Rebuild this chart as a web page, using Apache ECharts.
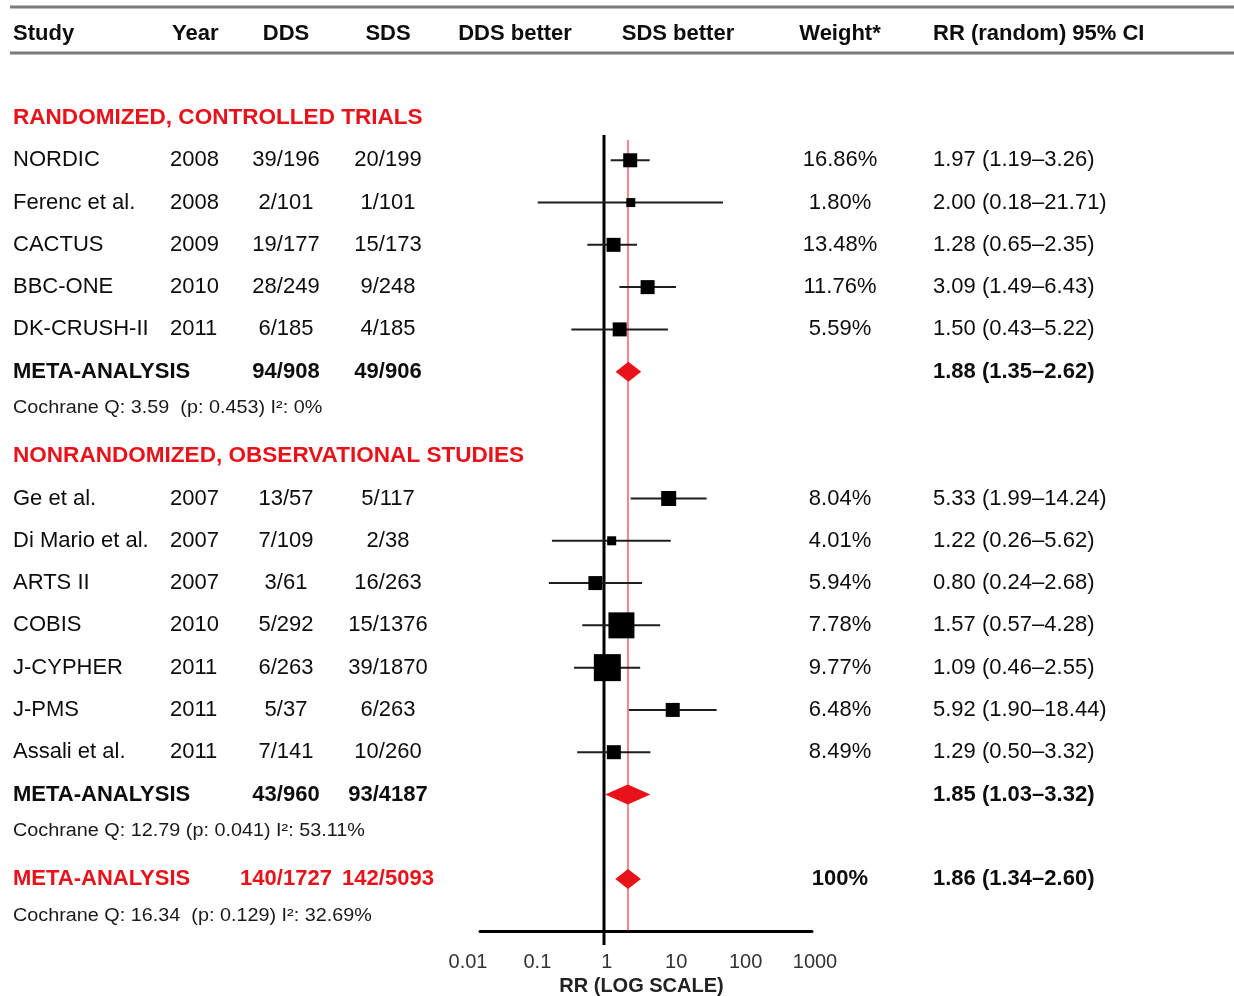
<!DOCTYPE html>
<html><head><meta charset="utf-8">
<script src="https://cdn.jsdelivr.net/npm/echarts@6/dist/echarts.min.js"></script>
<style>html,body{margin:0;padding:0;background:#fff}#chart{width:1234px;height:996px}</style>
</head><body><div id="chart"></div>
<script>
// ---------------- DATA ----------------
const columnHeaders = ['Study', 'Year', 'DDS', 'SDS', 'DDS better', 'SDS better', 'Weight*', 'RR (random) 95% CI'];
const sectionTitles = ['RANDOMIZED, CONTROLLED TRIALS', 'NONRANDOMIZED, OBSERVATIONAL STUDIES'];

const rctStudies   = ['NORDIC', 'Ferenc et al.', 'CACTUS', 'BBC-ONE', 'DK-CRUSH-II'];
const rctYears     = [2008, 2008, 2009, 2010, 2011];
const rctDdsEvents = [39, 2, 19, 28, 6];
const rctDdsTotals = [196, 101, 177, 249, 185];
const rctSdsEvents = [20, 1, 15, 9, 4];
const rctSdsTotals = [199, 101, 173, 248, 185];
const rctWeights   = [16.86, 1.80, 13.48, 11.76, 5.59];
const rctRR        = [1.97, 2.00, 1.28, 3.09, 1.50];
const rctLow       = [1.19, 0.18, 0.65, 1.49, 0.43];
const rctHigh      = [3.26, 21.71, 2.35, 6.43, 5.22];

const obsStudies   = ['Ge et al.', 'Di Mario et al.', 'ARTS II', 'COBIS', 'J-CYPHER', 'J-PMS', 'Assali et al.'];
const obsYears     = [2007, 2007, 2007, 2010, 2011, 2011, 2011];
const obsDdsEvents = [13, 7, 3, 5, 6, 5, 7];
const obsDdsTotals = [57, 109, 61, 292, 263, 37, 141];
const obsSdsEvents = [5, 2, 16, 15, 39, 6, 10];
const obsSdsTotals = [117, 38, 263, 1376, 1870, 263, 260];
const obsWeights   = [8.04, 4.01, 5.94, 7.78, 9.77, 6.48, 8.49];
const obsRR        = [5.33, 1.22, 0.80, 1.57, 1.09, 5.92, 1.29];
const obsLow       = [1.99, 0.26, 0.24, 0.57, 0.46, 1.90, 0.50];
const obsHigh      = [14.24, 5.62, 2.68, 4.28, 2.55, 18.44, 3.32];

const metaLabels    = ['META-ANALYSIS', 'META-ANALYSIS', 'META-ANALYSIS'];
const metaDdsEvents = [94, 43, 140];
const metaDdsTotals = [908, 960, 1727];
const metaSdsEvents = [49, 93, 142];
const metaSdsTotals = [906, 4187, 5093];
const metaWeights   = [null, null, 100];
const metaRR        = [1.88, 1.85, 1.86];
const metaLow       = [1.35, 1.03, 1.34];
const metaHigh      = [2.62, 3.32, 2.60];
const heterogeneity = [
  'Cochrane Q: 3.59  (p: 0.453) I\u00b2: 0%',
  'Cochrane Q: 12.79 (p: 0.041) I\u00b2: 53.11%',
  'Cochrane Q: 16.34  (p: 0.129) I\u00b2: 32.69%'
];
const nullRR = 1;
const tickLabels = ['0.01', '0.1', '1', '10', '100', '1000'];
const axisTitle = 'RR (LOG SCALE)';

// ---------------- STYLE / LAYOUT ----------------
const W = 1234, H = 996;
const ROW0 = 118, ROWH = 42.28;          // pixel y of row 0 and row pitch
const FONT = '"Liberation Sans", Arial, Helvetica, sans-serif';
const RED = '#e8121a';
const INK = '#0d0d0d';
const col = { study: 13, year: 170, dds: 286, sds: 388, ddsBetter: 515, sdsBetter: 678, weight: 840, rr: 933 };
const rctMarker = [14, 9, 14, 14, 14];
const obsMarker = [15, 9, 14, 26, 27, 14, 14];
const forestLeft = 480, forestRight = 812, onePx = 604, decadePx = 89;
const plotTop = 135, plotAxisY = 931;
const tickLeft = 468, tickRight = 815;
const rowOf = px => (px - ROW0) / ROWH;

// ---------------- BUILD ROWS ----------------
const fmtW = w => w == null ? '' : (Number.isInteger(w) ? w + '%' : w.toFixed(2) + '%');
const fmtCI = (r, l, h) => r.toFixed(2) + ' (' + l.toFixed(2) + '\u2013' + h.toFixed(2) + ')';
const cells = [];
function cell(x, row, text, align, opt) {
  cells.push(Object.assign({ x, row, text: String(text), align, bold: false, color: INK, size: 22, scaleX: 1 }, opt || {}));
}
// header
const hdrX = [col.study, 172, col.dds, col.sds, col.ddsBetter, col.sdsBetter, col.weight, col.rr];
const hdrAlign = ['left', 'left', 'center', 'center', 'center', 'center', 'center', 'left'];
columnHeaders.forEach((t, i) => cell(hdrX[i], -2, t, hdrAlign[i], { bold: true }));

const studyPts = [], studySizes = [], diamonds = [];
function addSection(title, titleRow, names, years, de, dt, se, st, wts, rr, lo, hi, markers) {
  cell(col.study, titleRow, title, 'left', { bold: true, color: RED, scaleX: 1.025 });
  names.forEach((n, i) => {
    const r = titleRow + 1 + i;
    cell(col.study, r, n, 'left');
    cell(col.year, r, years[i], 'left');
    cell(col.dds, r, de[i] + '/' + dt[i], 'center');
    cell(col.sds, r, se[i] + '/' + st[i], 'center');
    cell(col.weight, r, fmtW(wts[i]), 'center');
    cell(col.rr, r, fmtCI(rr[i], lo[i], hi[i]), 'left');
    studyPts.push([rr[i], r, lo[i], hi[i]]);
    studySizes.push(markers[i]);
  });
  return titleRow + 1 + names.length;
}
function addMeta(k, row, red) {
  const c = red ? RED : INK;
  cell(col.study, row, metaLabels[k], 'left', { bold: true, color: c });
  cell(col.dds, row, metaDdsEvents[k] + '/' + metaDdsTotals[k], 'center', { bold: true, color: c });
  cell(col.sds, row, metaSdsEvents[k] + '/' + metaSdsTotals[k], 'center', { bold: true, color: c });
  cell(col.weight, row, fmtW(metaWeights[k]), 'center', { bold: true });
  cell(col.rr, row, fmtCI(metaRR[k], metaLow[k], metaHigh[k]), 'left', { bold: true });
  cell(col.study, row + 0.87, heterogeneity[k], 'left', { size: 18, scaleX: 1.1, color: '#1a1a1a' });
  diamonds.push([metaRR[k], row, metaLow[k], metaHigh[k]]);
}
let r1 = addSection(sectionTitles[0], 0, rctStudies, rctYears, rctDdsEvents, rctDdsTotals, rctSdsEvents, rctSdsTotals, rctWeights, rctRR, rctLow, rctHigh, rctMarker);
addMeta(0, r1, false);
let r2 = addSection(sectionTitles[1], r1 + 2, obsStudies, obsYears, obsDdsEvents, obsDdsTotals, obsSdsEvents, obsSdsTotals, obsWeights, obsRR, obsLow, obsHigh, obsMarker);
addMeta(1, r2, false);
addMeta(2, r2 + 2, true);

// ---------------- CHART ----------------
const chart = echarts.init(document.getElementById('chart'), null, { renderer: 'canvas' });
const hidden = { show: false };
const plotY = { type: 'value', inverse: true, min: rowOf(plotTop), max: rowOf(plotAxisY), show: false };
const gridBase = { containLabel: false, outerBoundsMode: 'none' };

chart.setOption({
  backgroundColor: '#ffffff',
  animation: false,
  graphic: [
    { type: 'line', shape: { x1: 10, y1: 7, x2: W, y2: 7 }, style: { stroke: '#7a7a7a', lineWidth: 3 } },
    { type: 'line', shape: { x1: 10, y1: 53, x2: W, y2: 53 }, style: { stroke: '#7a7a7a', lineWidth: 3 } }
  ],
  grid: [
    Object.assign({ left: 0, right: 0, top: 0, bottom: 0 }, gridBase),
    Object.assign({ left: forestLeft, right: W - forestRight, top: plotTop, bottom: H - plotAxisY }, gridBase),
    Object.assign({ left: tickLeft, right: W - tickRight, top: plotTop, bottom: H - plotAxisY }, gridBase)
  ],
  xAxis: [
    { gridIndex: 0, type: 'value', min: 0, max: W, show: false },
    { gridIndex: 1, type: 'log', logBase: 10,
      min: Math.pow(10, (forestLeft - onePx) / decadePx), max: Math.pow(10, (forestRight - onePx) / decadePx),
      axisLine: { show: true, onZero: false, lineStyle: { color: '#000', width: 3 } },
      axisTick: hidden, axisLabel: hidden, splitLine: hidden },
    { gridIndex: 2, type: 'log', logBase: 10, min: 0.01, max: 1000,
      axisLine: hidden, axisTick: hidden, splitLine: hidden,
      axisLabel: { show: true, margin: 21, color: '#333', fontFamily: FONT, fontSize: 20,
        showMinLabel: true, showMaxLabel: true,
        formatter: v => tickLabels[Math.round(Math.log10(v)) + 2] },
      name: axisTitle, nameLocation: 'middle', nameGap: 44,
      nameTextStyle: { color: '#222', fontFamily: FONT, fontSize: 20, fontWeight: 'bold' } }
  ],
  yAxis: [
    { gridIndex: 0, type: 'value', inverse: true, min: rowOf(0), max: rowOf(H), show: false },
    Object.assign({ gridIndex: 1 }, plotY),
    Object.assign({ gridIndex: 2 }, plotY)
  ],
  series: [
    { // null-effect line
      type: 'line', xAxisIndex: 1, yAxisIndex: 1, clip: false, silent: true, symbol: 'none', z: 2,
      data: [[nullRR, rowOf(plotTop)], [nullRR, rowOf(945)]],
      lineStyle: { color: '#000', width: 3 }
    },
    { // pooled estimate line
      type: 'line', xAxisIndex: 1, yAxisIndex: 1, clip: false, silent: true, symbol: 'none', z: 2,
      data: [[metaRR[2], rowOf(140)], [metaRR[2], rowOf(plotAxisY)]],
      lineStyle: { color: RED, width: 1 }
    },
    { // study estimates
      type: 'custom', xAxisIndex: 1, yAxisIndex: 1, z: 3, silent: true,
      encode: { x: [0, 2, 3], y: 1 },
      data: studyPts,
      renderItem: (params, api) => {
        const y = api.value(1);
        const c = api.coord([api.value(0), y]);
        const l = api.coord([api.value(2), y]);
        const h = api.coord([api.value(3), y]);
        const s = studySizes[params.dataIndex];
        return { type: 'group', children: [
          { type: 'line', shape: { x1: l[0], y1: l[1], x2: h[0], y2: h[1] }, style: { stroke: '#1e1e1e', lineWidth: 2 } },
          { type: 'rect', shape: { x: c[0] - s / 2, y: c[1] - s / 2, width: s, height: s }, style: { fill: '#000' } }
        ] };
      }
    },
    { // pooled diamonds
      type: 'custom', xAxisIndex: 1, yAxisIndex: 1, z: 4, silent: true,
      encode: { x: [0, 2, 3], y: 1 },
      data: diamonds,
      renderItem: (params, api) => {
        const y = api.value(1);
        const c = api.coord([api.value(0), y]);
        const l = api.coord([api.value(2), y]);
        const h = api.coord([api.value(3), y]);
        const hh = 10;
        return { type: 'polygon', shape: { points: [[l[0], c[1]], [c[0], c[1] - hh], [h[0], c[1]], [c[0], c[1] + hh]] },
          style: { fill: RED } };
      }
    },
    { // table text
      type: 'custom', xAxisIndex: 0, yAxisIndex: 0, z: 5, silent: true,
      data: cells.map(c => [c.x, c.row]),
      renderItem: (params, api) => {
        const c = cells[params.dataIndex];
        const p = api.coord([api.value(0), api.value(1)]);
        return { type: 'text', x: p[0], y: p[1], scaleX: c.scaleX,
          style: { text: c.text, align: c.align, verticalAlign: 'middle', fill: c.color,
            fontFamily: FONT, fontSize: c.size, fontWeight: c.bold ? 'bold' : 'normal' } };
      }
    }
  ]
});
</script>
</body></html>
